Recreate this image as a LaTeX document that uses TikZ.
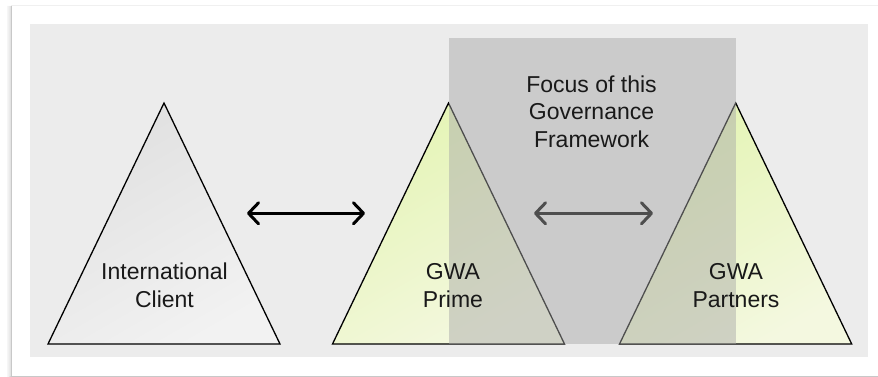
\documentclass[tikz,border=0pt]{standalone}
\usepackage{fontspec}
\setmainfont{Liberation Sans}
\usetikzlibrary{arrows.meta}
\definecolor{panelgray}{RGB}{236,236,236}
\definecolor{shadowgray}{RGB}{200,200,200}
\definecolor{focusgray}{RGB}{167,167,167}
\definecolor{greentop}{RGB}{228,244,180}
\definecolor{greenbot}{RGB}{244,248,224}
\definecolor{graytop}{RGB}{224,224,224}
\definecolor{graybot}{RGB}{242,242,242}
\tikzset{
  tri/.style={draw=black, line width=1.3pt, line join=miter},
  greentri/.style={tri, top color=greentop, bottom color=greenbot, shading angle=30},
  graytri/.style={tri, top color=graytop, bottom color=graybot, shading angle=30},
  lbl/.style={font=\fontsize{23}{27.7}\selectfont, align=center, text=black!90, inner sep=0pt, anchor=base},
  dblarrow/.style={line width=3pt, {Straight Barb[length=10pt,width=21pt,round]}-{Straight Barb[length=10pt,width=21pt,round]}}
}
\begin{document}
\begin{tikzpicture}[x=1pt,y=-1pt]
\useasboundingbox (0,0) rectangle (878,377);
% outer white panel with soft shadow
\fill[white] (0,0) rectangle (878,377);
\foreach \o/\op in {4/0.15,3/0.25,2/0.35,1/0.5}{
  \draw[shadowgray, opacity=\op, line width=1pt] (11-\o,6) -- (11-\o,376+\o*0.3) -- (878,376+\o*0.3);
}
\fill[white] (11,6) rectangle (880,375.5);
\draw[shadowgray, line width=1pt] (11,6) -- (11,376) -- (880,376);
\draw[black!6, line width=1pt] (11,5.5) -- (880,5.5);
% gray panel
\fill[panelgray] (30,24) rectangle (868,357);
% triangles
\coordinate (a1) at (164,103); \coordinate (l1) at (48,344); \coordinate (r1) at (280,344);
\coordinate (a2) at (448.5,103); \coordinate (l2) at (332.5,344); \coordinate (r2) at (564.5,344);
\coordinate (a3) at (735.7,103); \coordinate (l3) at (619.5,344); \coordinate (r3) at (851.7,344);
\path[graytri] (a1) -- (r1) -- (l1) -- cycle;
\path[greentri] (a2) -- (r2) -- (l2) -- cycle;
\path[greentri] (a3) -- (r3) -- (l3) -- cycle;
% arrows
\coordinate (p1) at (247,213.3); \coordinate (q1) at (365,213.3);
\coordinate (p2) at (534,213.3); \coordinate (q2) at (653,213.3);
\draw[dblarrow] (p1) -- (q1);
\draw[dblarrow] (p2) -- (q2);
% focus rectangle (semi-transparent)
\fill[focusgray, opacity=0.47] (449,37.7) rectangle (735.7,344);
% labels (anchor base = baseline of the last line)
\node[lbl] (client) at (164.5,307) {International\\Client};
\node[lbl] (prime) at (453,307) {GWA\\Prime};
\node[lbl] (partners) at (736,307) {GWA\\Partners};
\node[lbl] (focus) at (591.5,147.7) {Focus of this\\Governance\\Framework};
\end{tikzpicture}
\end{document}
